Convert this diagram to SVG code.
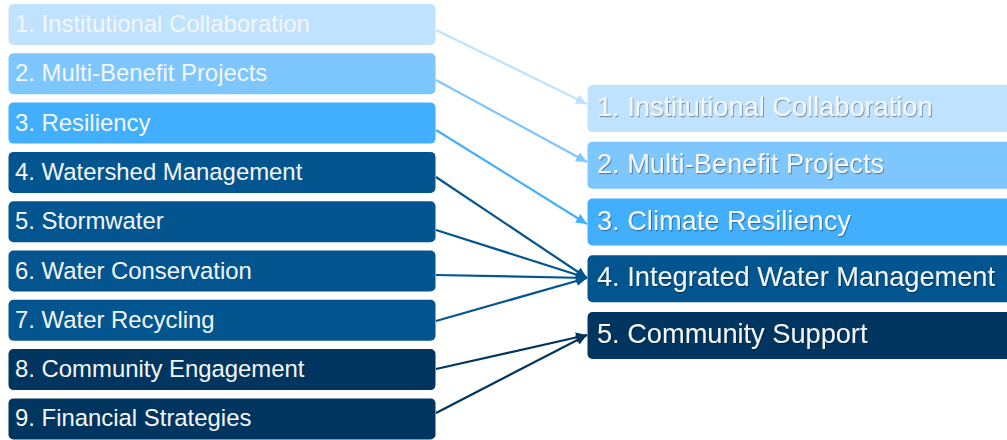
<svg xmlns="http://www.w3.org/2000/svg" width="1007" height="440" viewBox="0 0 1007 440">
<style>
.lt{font-family:"Liberation Sans",Arial,sans-serif;font-size:23.9px;fill:#F4F6F8}
.rt{font-family:"Liberation Sans",Arial,sans-serif;font-size:27.2px;fill:#F4F6F8;filter:url(#sh)}
.c{fill:none;stroke-width:2.2}
.c1{stroke:#BFE2FE}.c2{stroke:#7EC6FE}.c3{stroke:#41AEFE}.c4{stroke:#02558F}.c5{stroke:#003560}
.b1{fill:#BFE2FE}.b2{fill:#7EC6FE}.b3{fill:#41AEFE}.b4{fill:#02558F}.b5{fill:#003560}
</style>
<defs>
<filter id="sh" x="-5%" y="-20%" width="110%" height="140%">
<feDropShadow dx="1" dy="1.2" stdDeviation="0.7" flood-color="#000" flood-opacity="0.35"/>
</filter>
<marker id="m1" markerUnits="userSpaceOnUse" markerWidth="12" markerHeight="10" refX="11" refY="5" orient="auto"><path d="M0,0 L11,5 L0,10 z" fill="#BFE2FE"/></marker>
<marker id="m2" markerUnits="userSpaceOnUse" markerWidth="12" markerHeight="10" refX="11" refY="5" orient="auto"><path d="M0,0 L11,5 L0,10 z" fill="#7EC6FE"/></marker>
<marker id="m3" markerUnits="userSpaceOnUse" markerWidth="12" markerHeight="10" refX="11" refY="5" orient="auto"><path d="M0,0 L11,5 L0,10 z" fill="#41AEFE"/></marker>
<marker id="m4" markerUnits="userSpaceOnUse" markerWidth="12" markerHeight="10" refX="11" refY="5" orient="auto"><path d="M0,0 L11,5 L0,10 z" fill="#02558F"/></marker>
<marker id="m5" markerUnits="userSpaceOnUse" markerWidth="12" markerHeight="10" refX="11" refY="5" orient="auto"><path d="M0,0 L11,5 L0,10 z" fill="#003560"/></marker>
</defs>
<g id="connectors">
<line class="c c1" x1="436" y1="30" x2="587" y2="104" marker-end="url(#m1)"/>
<line class="c c2" x1="436" y1="80" x2="587" y2="162" marker-end="url(#m2)"/>
<line class="c c3" x1="436" y1="130" x2="587" y2="224" marker-end="url(#m3)"/>
<line class="c c4" x1="436" y1="177" x2="587" y2="278" marker-end="url(#m4)"/>
<line class="c c4" x1="436" y1="230" x2="587" y2="278" marker-end="url(#m4)"/>
<line class="c c4" x1="436" y1="275" x2="587" y2="278" marker-end="url(#m4)"/>
<line class="c c4" x1="436" y1="321" x2="587" y2="278" marker-end="url(#m4)"/>
<line class="c c5" x1="436" y1="369" x2="587" y2="335" marker-end="url(#m5)"/>
<line class="c c5" x1="436" y1="413" x2="587" y2="335" marker-end="url(#m5)"/>
</g>
<g id="left1"><rect class="b1" x="8.5" y="4" width="427" height="41" rx="5"/><text class="lt" x="15" y="32">1. Institutional Collaboration</text></g>
<g id="left2"><rect class="b2" x="8.5" y="53.3" width="427" height="41" rx="5"/><text class="lt" x="15" y="81.3">2. Multi-Benefit Projects</text></g>
<g id="left3"><rect class="b3" x="8.5" y="102.6" width="427" height="41" rx="5"/><text class="lt" x="15" y="130.6">3. Resiliency</text></g>
<g id="left4"><rect class="b4" x="8.5" y="151.9" width="427" height="41" rx="5"/><text class="lt" x="15" y="179.9">4. Watershed Management</text></g>
<g id="left5"><rect class="b4" x="8.5" y="201.2" width="427" height="41" rx="5"/><text class="lt" x="15" y="229.2">5. Stormwater</text></g>
<g id="left6"><rect class="b4" x="8.5" y="250.5" width="427" height="41" rx="5"/><text class="lt" x="15" y="278.5">6. Water Conservation</text></g>
<g id="left7"><rect class="b4" x="8.5" y="299.8" width="427" height="41" rx="5"/><text class="lt" x="15" y="327.8">7. Water Recycling</text></g>
<g id="left8"><rect class="b5" x="8.5" y="349.1" width="427" height="41" rx="5"/><text class="lt" x="15" y="377.1">8. Community Engagement</text></g>
<g id="left9"><rect class="b5" x="8.5" y="398.4" width="427" height="41" rx="5"/><text class="lt" x="15" y="426.4">9. Financial Strategies</text></g>
<g id="right1"><rect class="b1" x="587.5" y="85" width="430" height="47" rx="5"/><text class="rt" x="597" y="116">1. Institutional Collaboration</text></g>
<g id="right2"><rect class="b2" x="587.5" y="141.8" width="430" height="47" rx="5"/><text class="rt" x="597" y="172.8">2. Multi-Benefit Projects</text></g>
<g id="right3"><rect class="b3" x="587.5" y="198.5" width="430" height="47" rx="5"/><text class="rt" x="597" y="229.5">3. Climate Resiliency</text></g>
<g id="right4"><rect class="b4" x="587.5" y="255.3" width="430" height="47" rx="5"/><text class="rt" x="597" y="286.3">4. Integrated Water Management</text></g>
<g id="right5"><rect class="b5" x="587.5" y="312" width="430" height="47" rx="5"/><text class="rt" x="597" y="343">5. Community Support</text></g>
</svg>
